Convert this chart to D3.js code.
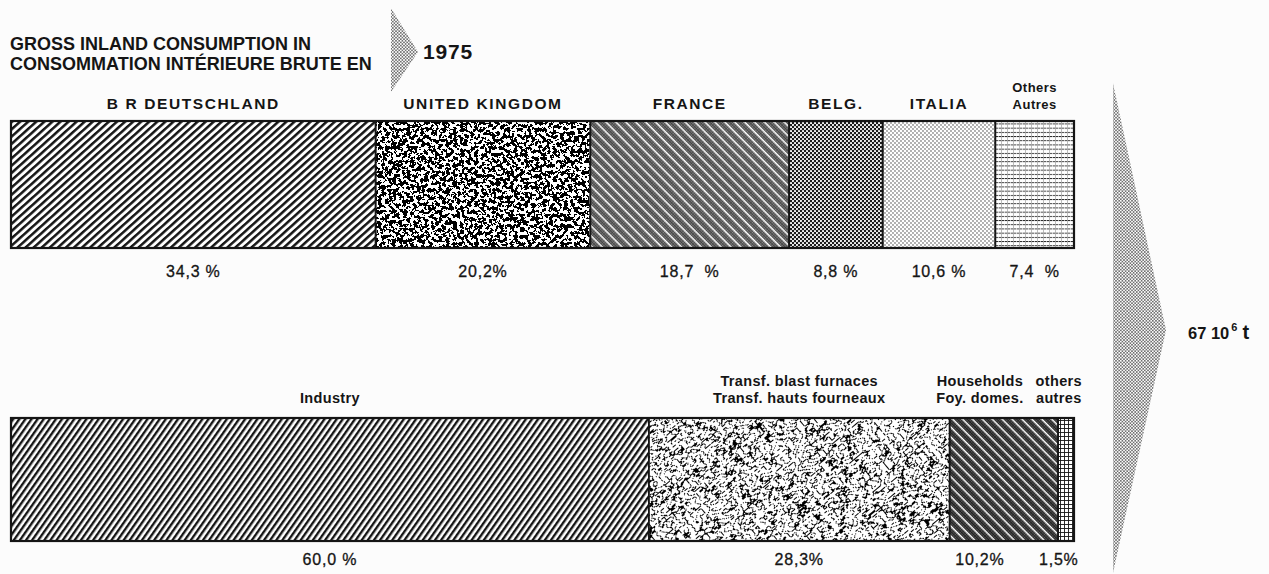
<!DOCTYPE html>
<html>
<head>
<meta charset="utf-8">
<script src="https://cdn.jsdelivr.net/npm/d3@7"></script>
<style>
  html, body { margin: 0; padding: 0; background: #fcfcfc; }
  svg { display: block; font-family: "Liberation Sans", Arial, Helvetica, sans-serif; }
</style>
</head>
<body>
<div id="chart"></div>
<script>
// --- data ---
const titleLines = ["GROSS INLAND CONSUMPTION IN", "CONSOMMATION INTÉRIEURE BRUTE EN"];
const year = "1975";
const countryLabels = [["B R DEUTSCHLAND"], ["UNITED KINGDOM"], ["FRANCE"], ["BELG."], ["ITALIA"], ["Others", "Autres"]];
const countryShares = [34.3, 20.2, 18.7, 8.8, 10.6, 7.4];
const countryPct = ["34,3 %", "20,2%", "18,7  %", "8,8 %", "10,6 %", "7,4  %"];
const sectorLabels = [["Industry"], ["Transf. blast furnaces", "Transf. hauts fourneaux"], ["Households", "Foy. domes."], ["others", "autres"]];
const sectorShares = [60.0, 28.3, 10.2, 1.5];
const sectorPct = ["60,0 %", "28,3%", "10,2%", "1,5%"];
const total = { value: "67 10", exp: "6", unit: "t" };

const W = 1269, H = 574;
const ink = "#151515";

const svg = d3.select("#chart").append("svg")
  .attr("width", W)
  .attr("height", H);
const defs = svg.append("defs");

// share (0-100) -> x position across both bars
const x = d3.scaleLinear().domain([0, 100]).range([11, 1074]);

// --- texture patterns ---
function pattern(id, w, h, rot, draw, bg = "#fff") {
  const p = defs.append("pattern")
    .attr("id", id)
    .attr("patternUnits", "userSpaceOnUse")
    .attr("width", w)
    .attr("height", h);
  if (rot) p.attr("patternTransform", `rotate(${rot})`);
  if (bg) p.append("rect").attr("width", w).attr("height", h).attr("fill", bg);
  draw(p);
}

// plain diagonal hatching
pattern("hatchDE", 5.4, 5.4, -42, p => p.append("rect").attr("width", 5.4).attr("height", 2.5).attr("fill", ink));
pattern("hatchInd", 5, 5, -55, p => p.append("rect").attr("width", 5).attr("height", 2.4).attr("fill", ink));

// fine crosshatch broken by clear white stripes
function cross(id, base, line, lw) {
  pattern(id, 7, 7, 45, p => {
    p.append("rect").attr("y", 1.5).attr("width", 7).attr("height", 5.5).attr("fill", base);
    [2.8, 4.5, 6.2].forEach(y => p.append("rect").attr("y", y - lw / 2).attr("width", 7).attr("height", lw).attr("fill", line));
    [0.6, 2.35, 4.1, 5.85].forEach(xx => p.append("rect").attr("x", xx).attr("y", 1.5).attr("width", lw * 0.8).attr("height", 5.5).attr("fill", line));
  });
}
cross("crossFR", "#a9a9a9", "#383838", 0.8);
cross("crossHH", "#858585", "#1a1a1a", 0.9);

pattern("dotsBE", 4, 4, 0, p => {
  [[1, 1], [3, 3]].forEach(([cx, cy]) => p.append("circle").attr("cx", cx).attr("cy", cy).attr("r", 1.05).attr("fill", "#fff"));
}, "#1c1c1c");

pattern("dotsIT", 4, 4, 0, p => {
  [[1, 1], [3, 3]].forEach(([cx, cy]) => p.append("circle").attr("cx", cx).attr("cy", cy).attr("r", 0.65).attr("fill", "#222"));
});

pattern("gridOth", 6, 4.2, 0, p => {
  p.append("rect").attr("x", 0).attr("y", 1.7).attr("width", 2.4).attr("height", 0.9).attr("fill", "#2a2a2a");
  p.append("rect").attr("x", 3).attr("y", 1.7).attr("width", 2.4).attr("height", 0.9).attr("fill", "#2a2a2a");
  p.append("rect").attr("x", 5.5).attr("y", 0).attr("width", 0.6).attr("height", 4.2).attr("fill", "#777");
});

pattern("gridSmall", 4, 4, 0, p => {
  p.append("rect").attr("width", 4).attr("height", 0.9).attr("fill", ink);
  p.append("rect").attr("width", 0.9).attr("height", 4).attr("fill", ink);
});

pattern("arrowDots", 3.2, 3.2, 0, p => {
  [[0.8, 0.8], [2.4, 2.4]].forEach(([cx, cy]) => p.append("circle").attr("cx", cx).attr("cy", cy).attr("r", 0.75).attr("fill", "#333"));
}, null);

// --- noise textures (speckle and worms) ---
function noiseFilter(id, type, freq, octaves, seed, alphaRow, table) {
  const f = defs.append("filter")
    .attr("id", id)
    .attr("x", 0).attr("y", 0).attr("width", 1).attr("height", 1)
    .attr("color-interpolation-filters", "sRGB");
  f.append("feTurbulence")
    .attr("type", type)
    .attr("baseFrequency", freq)
    .attr("numOctaves", octaves)
    .attr("seed", seed)
    .attr("result", "noise");
  f.append("feColorMatrix")
    .attr("in", "noise")
    .attr("type", "matrix")
    .attr("values", `0 0 0 0 0  0 0 0 0 0  0 0 0 0 0  ${alphaRow}`)
    .attr("result", "a");
  f.append("feComponentTransfer").attr("in", "a").attr("result", "t")
    .append("feFuncA").attr("type", "discrete").attr("tableValues", table);
  f.append("feFlood").attr("flood-color", "#fff").attr("result", "w");
  const m = f.append("feMerge");
  m.append("feMergeNode").attr("in", "w");
  m.append("feMergeNode").attr("in", "t");
}
noiseFilter("speckle", "fractalNoise", "0.28", 3, 7, "1 0 0 0 0", "0 1");
// contour band of smooth noise gives short curly strokes
const wormTable = d3.range(40).map(k => (k >= 18 && k <= 20) ? 1 : 0).join(" ");
noiseFilter("worms", "fractalNoise", "0.16 0.27", 1, 3, "1 0 0 0 0", wormTable);

const countryFills = [
  { pattern: "hatchDE" }, { filter: "speckle", rot: 0 }, { pattern: "crossFR" },
  { pattern: "dotsBE" }, { pattern: "dotsIT" }, { pattern: "gridOth" }
];
const sectorFills = [
  { pattern: "hatchInd" }, { filter: "worms", rot: -40 }, { pattern: "crossHH" }, { pattern: "gridSmall" }
];

// --- title ---
const title = svg.append("text")
  .attr("font-size", 18)
  .attr("font-weight", "bold")
  .attr("fill", ink);
titleLines.forEach((t, i) => title.append("tspan").attr("x", 10).attr("y", 50 + i * 20).text(t));

svg.append("polygon")
  .attr("points", "391,8 418,52 391,92")
  .attr("fill", "url(#arrowDots)");

svg.append("text")
  .attr("x", 423)
  .attr("y", 59)
  .attr("font-size", 21)
  .attr("letter-spacing", 0.8)
  .attr("font-weight", "bold")
  .attr("fill", ink)
  .text(year);

// --- stacked bars ---
function drawBar(name, shares, fills, labels, pct, y0, h, opt) {
  const ends = d3.cumsum(shares);
  const segs = shares.map((v, i) => ({ i, v, x0: x(ends[i] - v), x1: x(ends[i]) }));
  const g = svg.append("g").attr("class", name);

  segs.forEach(d => {
    const f = fills[d.i];
    if (f.pattern) {
      g.append("rect")
        .attr("x", d.x0).attr("y", y0)
        .attr("width", d.x1 - d.x0).attr("height", h)
        .attr("fill", `url(#${f.pattern})`);
    } else {
      const cid = `clip-${name}-${d.i}`;
      defs.append("clipPath").attr("id", cid)
        .append("rect")
        .attr("x", d.x0).attr("y", y0)
        .attr("width", d.x1 - d.x0).attr("height", h);
      const cx = (d.x0 + d.x1) / 2, cy = y0 + h / 2;
      const r = Math.hypot(d.x1 - d.x0, h) / 2 + 4;
      g.append("g").attr("clip-path", `url(#${cid})`)
        .append("g").attr("transform", `rotate(${f.rot},${cx},${cy})`)
        .append("rect")
        .attr("x", cx - r).attr("y", cy - r)
        .attr("width", 2 * r).attr("height", 2 * r)
        .attr("fill", "#fff")
        .attr("filter", `url(#${f.filter})`);
    }
  });

  g.selectAll("rect.edge")
    .data(segs)
    .join("rect")
    .attr("class", "edge")
    .attr("x", d => d.x0).attr("y", y0)
    .attr("width", d => d.x1 - d.x0).attr("height", h)
    .attr("fill", "none")
    .attr("stroke", ink)
    .attr("stroke-width", 1.6);

  g.append("rect")
    .attr("x", x(0)).attr("y", y0)
    .attr("width", x(100) - x(0)).attr("height", h)
    .attr("fill", "none")
    .attr("stroke", ink)
    .attr("stroke-width", 2.2);

  // category labels above the bar
  const lab = g.selectAll("text.cat")
    .data(segs)
    .join("text")
    .attr("class", "cat")
    .attr("text-anchor", "middle")
    .attr("font-weight", "bold")
    .attr("fill", ink)
    .attr("font-size", d => labels[d.i].length > 1 ? opt.smallSize : opt.labelSize)
    .attr("letter-spacing", d => labels[d.i].length > 1 ? opt.smallSpacing : opt.spacing);
  lab.each(function (d) {
    const lines = labels[d.i];
    const step = lines.length > 1 ? opt.lineStep : 0;
    d3.select(this).selectAll("tspan")
      .data(lines)
      .join("tspan")
      .attr("y", (t, k) => opt.labelBase - (lines.length - 1 - k) * step)
      .text(t => t);
  });

  // place labels on segment centres, push apart where they would collide
  const pos = segs.map(d => {
    let w = 0;
    d3.select(lab.nodes()[d.i]).selectAll("tspan").each(function () { w = Math.max(w, this.getComputedTextLength()); });
    let c = (d.x0 + d.x1) / 2;
    if (w > d.x1 - d.x0 + 10 && d.i === segs.length - 1) c = d.x1 + 8 - w / 2;
    return { c, w };
  });
  for (let i = pos.length - 2; i >= 0; i--) {
    const limit = pos[i + 1].c - pos[i + 1].w / 2 - 12;
    if (pos[i].c + pos[i].w / 2 > limit) pos[i].c = limit - pos[i].w / 2;
  }
  lab.selectAll("tspan").attr("x", function () { return pos[d3.select(this.parentNode).datum().i].c; });

  // percentages below the bar
  g.selectAll("text.pct")
    .data(segs)
    .join("text")
    .attr("class", "pct")
    .attr("x", d => pos[d.i].c)
    .attr("y", opt.pctBase)
    .attr("text-anchor", "middle")
    .attr("font-size", 16)
    .attr("letter-spacing", 0.8)
    .attr("fill", ink)
    .attr("stroke", ink)
    .attr("stroke-width", 0.3)
    .style("white-space", "pre")
    .text(d => pct[d.i]);
}

drawBar("countries", countryShares, countryFills, countryLabels, countryPct, 121, 127,
  { labelSize: 15.5, smallSize: 13, spacing: 1.6, smallSpacing: 0.5, lineStep: 17, labelBase: 109, pctBase: 277 });
drawBar("sectors", sectorShares, sectorFills, sectorLabels, sectorPct, 418, 123,
  { labelSize: 14.5, smallSize: 14.5, spacing: 0.35, smallSpacing: 0.35, lineStep: 17, labelBase: 403, pctBase: 565 });

// --- total arrow ---
svg.append("polygon")
  .attr("points", "1113,83 1166,330 1113,573")
  .attr("fill", "url(#arrowDots)");

const tot = svg.append("text")
  .attr("x", 1188)
  .attr("y", 339)
  .attr("font-size", 16.5)
  .attr("font-weight", "bold")
  .attr("fill", ink);
tot.append("tspan").text(total.value);
tot.append("tspan").attr("font-size", 11).attr("dy", -8).attr("dx", 2).text(total.exp);
tot.append("tspan").attr("font-size", 20).attr("dy", 8).attr("dx", 5).text(total.unit);
</script>
</body>
</html>
